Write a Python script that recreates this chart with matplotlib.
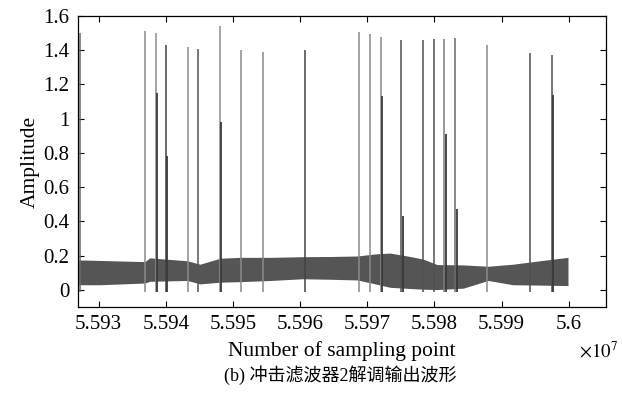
import matplotlib
matplotlib.use("Agg")
import matplotlib.pyplot as plt

plt.rcParams['font.family'] = ['Liberation Serif', 'Noto Sans CJK SC', 'DejaVu Sans']
plt.rcParams['mathtext.fontset'] = 'stix'

# ---- data (x in units of 1e7 samples) ----
band_x = [5.59269, 5.59302, 5.59369, 5.59376, 5.59432, 5.59451, 5.59481, 5.59511,
          5.59556, 5.59604, 5.59645, 5.59685, 5.59712, 5.59734, 5.59764, 5.59783,
          5.59804, 5.59843, 5.59880, 5.59917, 5.59957, 5.59999]
band_upper = [0.175, 0.172, 0.165, 0.187, 0.170, 0.150, 0.185, 0.190,
              0.190, 0.194, 0.195, 0.198, 0.210, 0.215, 0.195, 0.180,
              0.148, 0.146, 0.138, 0.150, 0.170, 0.190]
band_lower = [0.030, 0.030, 0.040, 0.050, 0.055, 0.035, 0.045, 0.048,
              0.055, 0.065, 0.062, 0.058, 0.035, 0.015, 0.008, 0.004,
              0.002, 0.010, 0.055, 0.030, 0.028, 0.025]

spike_x = [5.59272, 5.59369, 5.59385, 5.59400, 5.59433, 5.59448, 5.59480, 5.59512,
           5.59544, 5.59608, 5.59688, 5.59704, 5.59720, 5.59751, 5.59783, 5.59800,
           5.59815, 5.59831, 5.59879, 5.59943, 5.59975]
spike_top = [1.50, 1.51, 1.50, 1.43, 1.42, 1.405, 1.54, 1.40,
             1.39, 1.40, 1.507, 1.495, 1.48, 1.458, 1.458, 1.467,
             1.467, 1.473, 1.43, 1.386, 1.37]
spike_bottom = -0.015

sec_x = [5.59387, 5.59402, 5.59482, 5.59722, 5.59753, 5.59817, 5.59833, 5.59977]
sec_top = [1.15, 0.78, 0.98, 1.13, 0.43, 0.91, 0.47, 1.14]

xticks = [5.593, 5.594, 5.595, 5.596, 5.597, 5.598, 5.599, 5.600]
xtick_labels = ['5.593', '5.594', '5.595', '5.596', '5.597', '5.598', '5.599', '5.6']
yticks = [0, 0.2, 0.4, 0.6, 0.8, 1.0, 1.2, 1.4, 1.6]
ytick_labels = ['0', '0.2', '0.4', '0.6', '0.8', '1', '1.2', '1.4', '1.6']

# ---- styles ----
spike_colors = ['#6a6a6a', '#8a8a8a', '#8a8a8a', '#444444', '#8a8a8a', '#555555', '#8a8a8a', '#8a8a8a',
                '#8a8a8a', '#444444', '#8a8a8a', '#8a8a8a', '#8a8a8a', '#505050', '#505050', '#505050',
                '#7a7a7a', '#6a6a6a', '#8a8a8a', '#505050', '#505050']

fig = plt.figure(figsize=(6.22, 4.11), dpi=100)
ax = fig.add_axes([78/622, 1 - 307/411, 528/622, 291/411])

ax.fill_between(band_x, band_lower, band_upper, color='#555555', lw=0, zorder=2)
ax.vlines(spike_x, spike_bottom, spike_top, colors=spike_colors, lw=1.1, zorder=3)
ax.vlines(sec_x, spike_bottom, sec_top, colors='#3a3a3a', lw=1.3, zorder=4)

ax.set_xlim(5.592692, 5.600556)
ax.set_ylim(-0.1, 1.6)
ax.set_xticks(xticks)
ax.set_xticklabels(xtick_labels)
ax.set_yticks(yticks)
ax.set_yticklabels(ytick_labels)
ax.tick_params(direction='in', top=True, right=True, length=4, width=0.8,
               labelsize=15, pad=6, colors='black')
for s in ax.spines.values():
    s.set_linewidth(0.9)

ax.set_xlabel('Number of sampling point', fontsize=15.5, labelpad=5)
ax.set_ylabel('Amplitude', fontsize=15.5, labelpad=3)

fig.text(598/622, 1 - 351/411, r'$\times 10^{7}$', fontsize=13.5, ha='center', va='center')
fig.text(340/622, 1 - 375/411, '(b) 冲击滤波器2解调输出波形', fontsize=13,
         ha='center', va='center')

fig.savefig('out.png', dpi=100)
